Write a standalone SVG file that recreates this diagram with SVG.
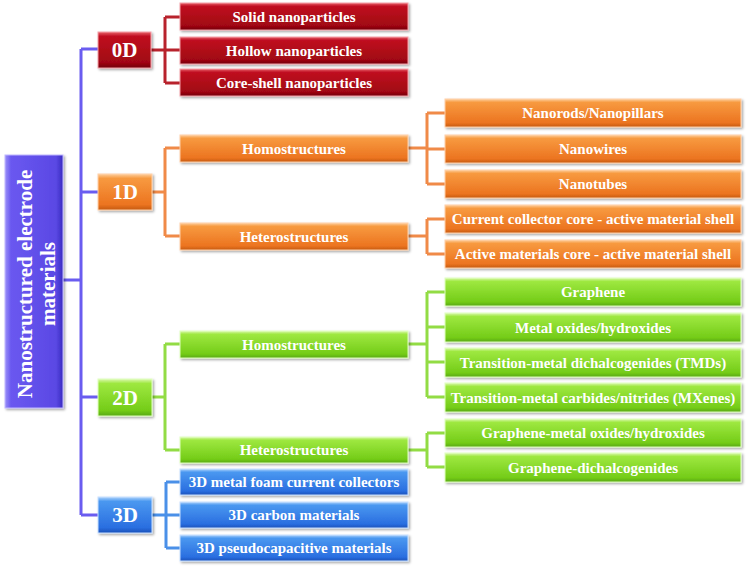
<svg xmlns="http://www.w3.org/2000/svg" width="747" height="570" viewBox="0 0 747 570">
<defs>
<linearGradient id="gRed" x1="0" y1="0" x2="0" y2="1"><stop offset="0" stop-color="#e8606a"/><stop offset="0.12" stop-color="#c01020"/><stop offset="0.85" stop-color="#a00612"/><stop offset="1" stop-color="#70000a"/></linearGradient>
<linearGradient id="gOrange" x1="0" y1="0" x2="0" y2="1"><stop offset="0" stop-color="#fdd0a0"/><stop offset="0.12" stop-color="#f79a40"/><stop offset="0.85" stop-color="#ec7420"/><stop offset="1" stop-color="#c45a10"/></linearGradient>
<linearGradient id="gGreen" x1="0" y1="0" x2="0" y2="1"><stop offset="0" stop-color="#dcf8b0"/><stop offset="0.12" stop-color="#9ee840"/><stop offset="0.85" stop-color="#74cc18"/><stop offset="1" stop-color="#58a810"/></linearGradient>
<linearGradient id="gBlue" x1="0" y1="0" x2="0" y2="1"><stop offset="0" stop-color="#b0d4fb"/><stop offset="0.12" stop-color="#4a98f0"/><stop offset="0.85" stop-color="#2a6ee0"/><stop offset="1" stop-color="#1a50b8"/></linearGradient>
<linearGradient id="gPurple" x1="0" y1="0" x2="1" y2="0"><stop offset="0" stop-color="#9a90f8"/><stop offset="0.1" stop-color="#6a58f0"/><stop offset="0.88" stop-color="#5a48e4"/><stop offset="1" stop-color="#3a2cc0"/></linearGradient>
<filter id="sh" x="-10%" y="-20%" width="130%" height="160%"><feDropShadow dx="1.5" dy="1.5" stdDeviation="1" flood-color="#000" flood-opacity="0.35"/></filter>
</defs>
<style>
.t{font-family:"Liberation Serif","Times New Roman",serif;font-weight:bold;fill:#fff;text-anchor:middle;dominant-baseline:central}
.s{font-size:15px}
.b{font-size:21px}
.r{fill:url(#gRed);stroke:#f4a0a8;stroke-width:1;filter:url(#sh)}
.o{fill:url(#gOrange);stroke:#ffd0a8;stroke-width:1;filter:url(#sh)}
.g{fill:url(#gGreen);stroke:#e0ffc0;stroke-width:1;filter:url(#sh)}
.bl{fill:url(#gBlue);stroke:#c8e0ff;stroke-width:1;filter:url(#sh)}
.p{fill:url(#gPurple);stroke:#c0b8ff;stroke-width:1;filter:url(#sh)}
.c{fill:none;stroke-width:3}
</style>
<g id="connectors">
<path class="c" stroke="#6a5cf0" d="M63,280 H81 M81,49 V515 M81,49 H98 M81,192 H98 M81,397 H98 M81,515 H98"/>
<path class="c" stroke="#b8222c" d="M151,50 H165 M165,17 V83 M165,17 H180 M165,50 H180 M165,83 H180"/>
<path class="c" stroke="#f08a48" d="M152,192 H165 M165,148 V236 M165,148 H180 M165,236 H180 M408,148 H427 M427,113 V184 M427,113 H445 M427,149 H445 M427,184 H445 M408,236 H427 M427,219 V254 M427,219 H445 M427,254 H445"/>
<path class="c" stroke="#92dc44" d="M152,397 H165 M165,344 V450 M165,344 H180 M165,450 H180 M408,344 H427 M427,292 V397 M427,292 H445 M427,327 H445 M427,362 H445 M427,397 H445 M408,450 H427 M427,433 V467 M427,433 H445 M427,467 H445"/>
<path class="c" stroke="#4a90e8" d="M152,515 H166 M166,482 V548 M166,482 H180 M166,515 H180 M166,548 H180"/>
</g>
<g id="root"><rect class="p" x="5" y="155" width="58" height="253"/><text class="t" transform="translate(35,284) rotate(-90)" style="font-size:21px"><tspan x="0" y="-10">Nanostructured electrode</tspan><tspan x="0" y="13">materials</tspan></text></g>
<g id="n0D"><rect class="r" x="98" y="32" width="53" height="36"/><text class="t b" x="124.5" y="50">0D</text></g>
<g id="n0D-solid"><rect class="r" x="180" y="3" width="228" height="27"/><text class="t s" x="294" y="16.5">Solid nanoparticles</text></g>
<g id="n0D-hollow"><rect class="r" x="180" y="37" width="228" height="27"/><text class="t s" x="294" y="50.5">Hollow nanoparticles</text></g>
<g id="n0D-core"><rect class="r" x="180" y="69" width="228" height="27"/><text class="t s" x="294" y="82.5">Core-shell nanoparticles</text></g>
<g id="n1D"><rect class="o" x="98" y="174" width="54" height="36"/><text class="t b" x="125" y="192">1D</text></g>
<g id="n1D-homo"><rect class="o" x="180" y="135" width="228" height="27"/><text class="t s" x="294" y="148.5">Homostructures</text></g>
<g id="n1D-hetero"><rect class="o" x="180" y="223" width="228" height="27"/><text class="t s" x="294" y="236.5">Heterostructures</text></g>
<g id="n1D-rods"><rect class="o" x="445" y="99" width="296" height="28"/><text class="t s" x="593" y="113">Nanorods/Nanopillars</text></g>
<g id="n1D-wires"><rect class="o" x="445" y="135" width="296" height="28"/><text class="t s" x="593" y="149">Nanowires</text></g>
<g id="n1D-tubes"><rect class="o" x="445" y="170" width="296" height="28"/><text class="t s" x="593" y="184">Nanotubes</text></g>
<g id="n1D-cc"><rect class="o" x="445" y="205" width="296" height="28"/><text class="t s" x="593" y="219">Current collector core - active material shell</text></g>
<g id="n1D-am"><rect class="o" x="445" y="240" width="296" height="28"/><text class="t s" x="593" y="254">Active materials core - active material shell</text></g>
<g id="n2D"><rect class="g" x="98" y="379" width="54" height="37"/><text class="t b" x="125" y="397.5">2D</text></g>
<g id="n2D-homo"><rect class="g" x="180" y="331" width="228" height="27"/><text class="t s" x="294" y="344.5">Homostructures</text></g>
<g id="n2D-hetero"><rect class="g" x="180" y="437" width="228" height="26"/><text class="t s" x="294" y="450">Heterostructures</text></g>
<g id="n2D-graphene"><rect class="g" x="445" y="278" width="296" height="28"/><text class="t s" x="593" y="292">Graphene</text></g>
<g id="n2D-oxides"><rect class="g" x="445" y="313" width="296" height="29"/><text class="t s" x="593" y="327.5">Metal oxides/hydroxides</text></g>
<g id="n2D-tmd"><rect class="g" x="445" y="348" width="296" height="29"/><text class="t s" x="593" y="362.5">Transition-metal dichalcogenides (TMDs)</text></g>
<g id="n2D-mxene"><rect class="g" x="445" y="383" width="296" height="29"/><text class="t s" x="593" y="397.5">Transition-metal carbides/nitrides (MXenes)</text></g>
<g id="n2D-gmo"><rect class="g" x="445" y="419" width="296" height="28"/><text class="t s" x="593" y="433">Graphene-metal oxides/hydroxides</text></g>
<g id="n2D-gd"><rect class="g" x="445" y="453" width="296" height="29"/><text class="t s" x="593" y="467.5">Graphene-dichalcogenides</text></g>
<g id="n3D"><rect class="bl" x="98" y="497" width="54" height="36"/><text class="t b" x="125" y="515">3D</text></g>
<g id="n3D-foam"><rect class="bl" x="180" y="469" width="228" height="26"/><text class="t s" x="294" y="482">3D metal foam current collectors</text></g>
<g id="n3D-carbon"><rect class="bl" x="180" y="502" width="228" height="26"/><text class="t s" x="294" y="515">3D carbon materials</text></g>
<g id="n3D-pseudo"><rect class="bl" x="180" y="535" width="228" height="26"/><text class="t s" x="294" y="548">3D pseudocapacitive materials</text></g>
</svg>
